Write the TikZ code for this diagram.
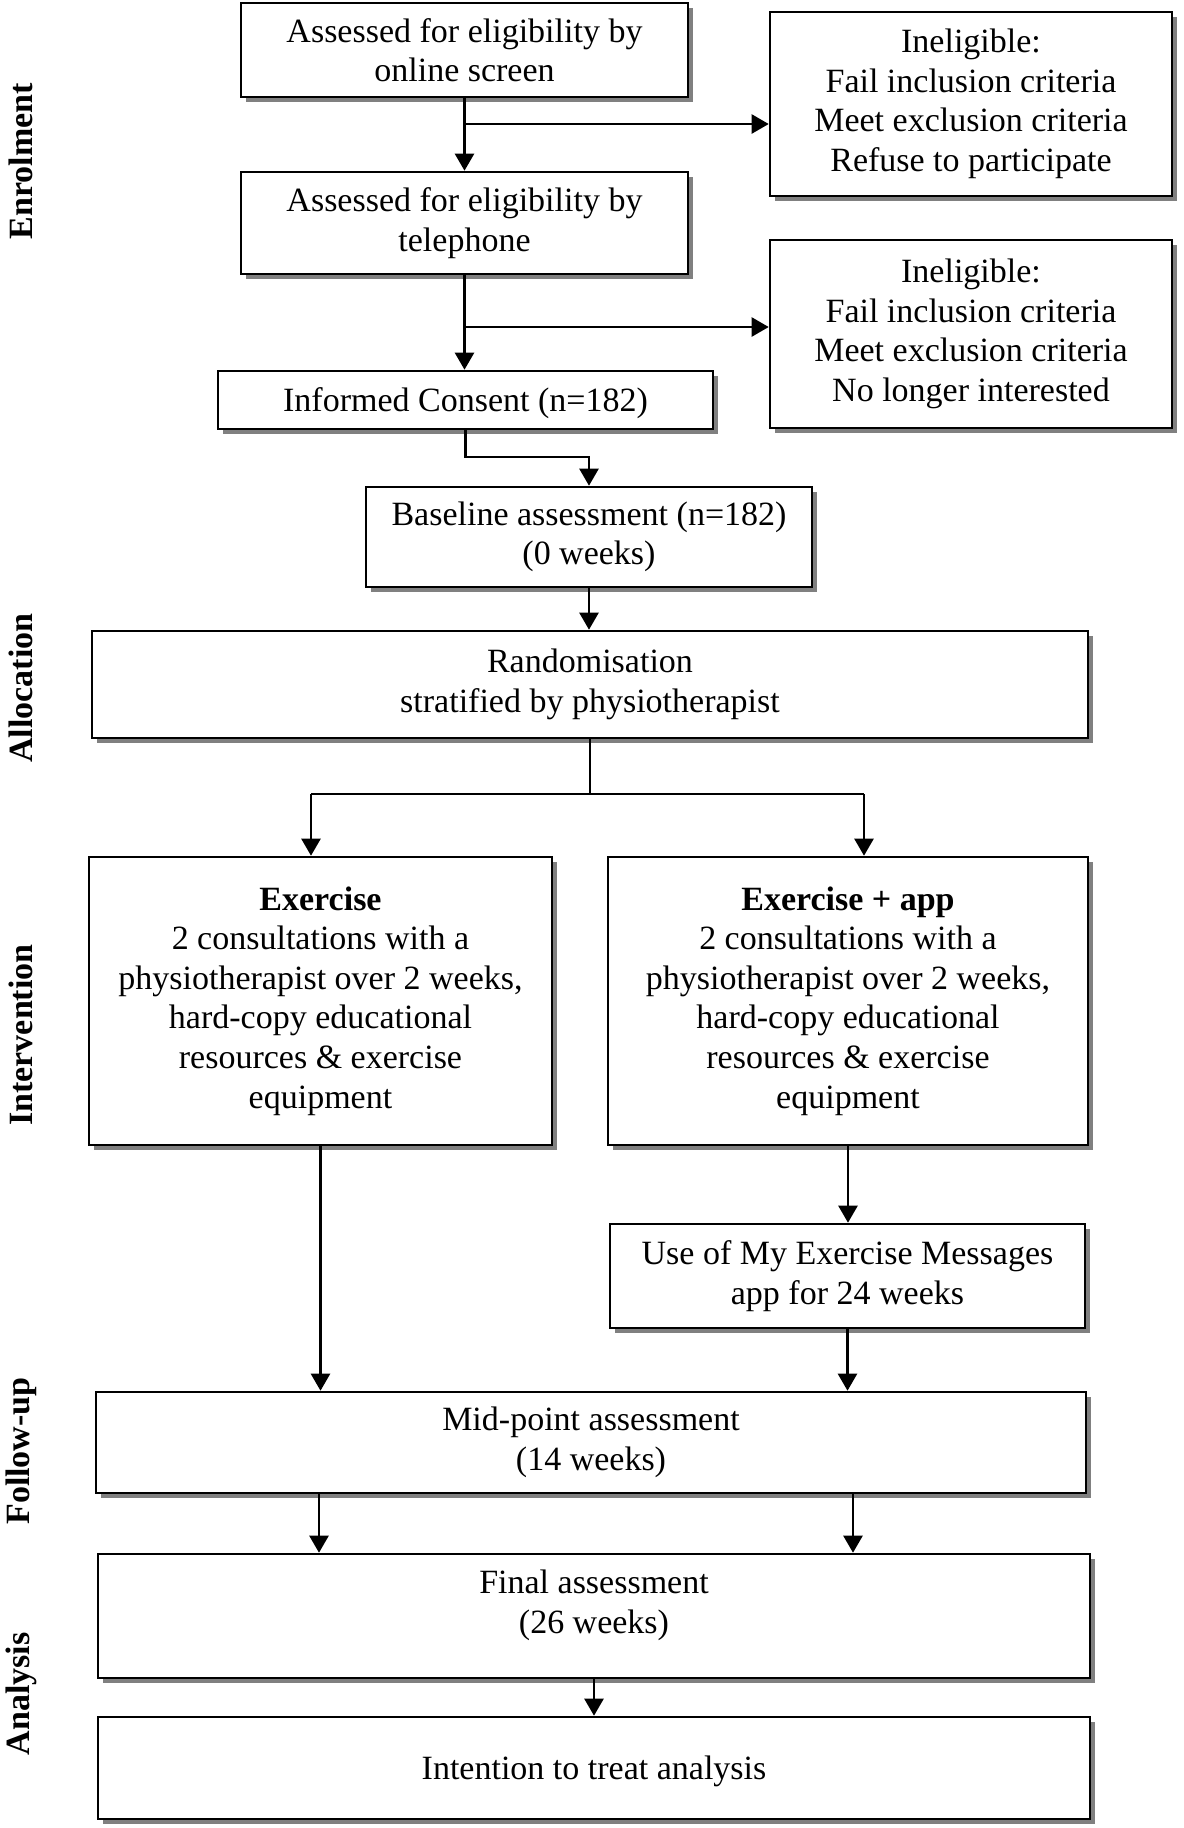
\documentclass[tikz,border=0pt]{standalone}
\usepackage{fontspec}
\setmainfont{Liberation Serif}
\usetikzlibrary{shadows,arrows.meta}
\begin{document}
\begin{tikzpicture}[x=0.5pt,y=-0.5pt,
  box/.style={draw, line width=1.3pt, fill=white, inner sep=0pt, align=center,
    font=\fontsize{17}{19.8}\selectfont,
    execute at begin node={\rule{0pt}{15pt}},
    drop shadow={shadow xshift=2.5pt,shadow yshift=-2.5pt,fill=black!50,opacity=1}},
  arr/.style={line width=1.2pt, -{Triangle[length=8.5pt,width=9.5pt]}},
  ln/.style={line width=1.2pt},
  side/.style={rotate=90, font=\fontsize{17}{20}\selectfont\bfseries}]
\useasboundingbox[fill=white] (0,0) rectangle (1184,1828);

\node[side] (lenr) at (21,161) {Enrolment};
\node[side] (lall) at (21,688) {Allocation};
\node[side] (lint) at (21,1035) {Intervention};
\node[side] (lfol) at (21,1451) {Follow-up};
\node[side] (lana) at (21,1694) {Analysis};

\node[box, minimum width=223.5pt, minimum height=47pt] (online) at (464.5,50) {Assessed for eligibility by\\online screen};
\node[box, minimum width=201pt, minimum height=92pt] (inel1) at (971,104) {Ineligible:\\Fail inclusion criteria\\Meet exclusion criteria\\Refuse to participate};
\node[box, minimum width=223.5pt, minimum height=51pt] (tel) at (464.5,223) {Assessed for eligibility by\\telephone};
\node[box, minimum width=201pt, minimum height=94pt] (inel2) at (971,334) {Ineligible:\\Fail inclusion criteria\\Meet exclusion criteria\\No longer interested};
\node[box, minimum width=247.5pt, minimum height=29pt] (consent) at (465.5,400) {Informed Consent (n=182)};
\node[box, minimum width=223pt, minimum height=50pt] (base) at (589,537) {Baseline assessment (n=182)\\(0 weeks)};
\node[box, minimum width=498pt, minimum height=53.5pt] (rand) at (590,684.5) {Randomisation\\stratified by physiotherapist};
\node[box, minimum width=231.5pt, minimum height=144pt] (ex) at (320.5,1001) {\textbf{Exercise}\\2 consultations with a\\physiotherapist over 2 weeks,\\hard-copy educational\\resources \& exercise\\equipment};
\node[box, minimum width=240pt, minimum height=144pt] (exapp) at (848,1001) {\textbf{Exercise + app}\\2 consultations with a\\physiotherapist over 2 weeks,\\hard-copy educational\\resources \& exercise\\equipment};
\node[box, minimum width=237.5pt, minimum height=52pt] (useapp) at (847.5,1276) {Use of My Exercise Messages\\app for 24 weeks};
\node[box, minimum width=495pt, minimum height=50.5pt] (mid) at (591,1442.5) {Mid-point assessment\\(14 weeks)};
\node[box, minimum width=496pt, minimum height=62pt] (final) at (594,1616) {Final assessment\\(26 weeks)\rule[-14.5pt]{0pt}{1pt}};
\node[box, minimum width=496pt, minimum height=51pt] (itt) at (594,1768) {Intention to treat analysis};

% enrolment connectors
\coordinate (b1) at (464.5,124);
\draw[arr] (online.south) -- (tel.north);
\draw[arr] (b1) -- (b1 -| inel1.west);
\coordinate (b2) at (464.5,327);
\draw[arr] (tel.south) -- (consent.north -| tel.south);
\draw[arr] (b2) -- (b2 -| inel2.west);
\coordinate (c1) at (465.5,457);
\draw[arr] (consent.south) -- (c1) -| (base.north);
\draw[arr] (base.south) -- (rand.north -| base.south);

% allocation split
\coordinate (sl) at (311,794);
\coordinate (sr) at (864,794);
\draw[ln] (rand.south) -- (rand.south |- sl);
\draw[ln] (sl) -- (sr);
\draw[arr] (sl) -- (sl |- ex.north);
\draw[arr] (sr) -- (sr |- exapp.north);

% intervention to follow-up
\draw[arr] (ex.south) -- (mid.north -| ex.south);
\draw[arr] (exapp.south) -- (useapp.north -| exapp.south);
\draw[arr] (useapp.south) -- (mid.north -| useapp.south);

\coordinate (ml) at (319,0);
\coordinate (mr) at (853,0);
\draw[arr] (mid.south -| ml) -- (final.north -| ml);
\draw[arr] (mid.south -| mr) -- (final.north -| mr);
\draw[arr] (final.south) -- (itt.north);
\end{tikzpicture}
\end{document}
